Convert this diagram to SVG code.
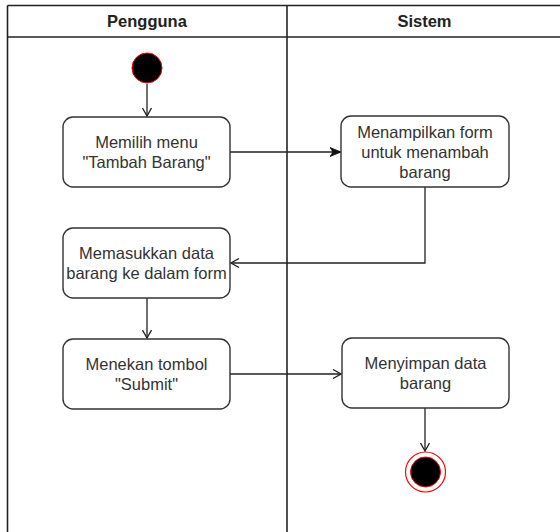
<svg xmlns="http://www.w3.org/2000/svg" width="560" height="532" viewBox="0 0 560 532">
<defs>
<style>
.lane{fill:none;stroke:#222;stroke-width:1.6}
.box{fill:#fff;stroke:#333;stroke-width:1.4}
.t{font-family:"Liberation Sans",Arial,sans-serif;font-size:16.5px;fill:#333;text-anchor:middle}
.h{font-family:"Liberation Sans",Arial,sans-serif;font-size:16.5px;font-weight:bold;fill:#222;text-anchor:middle}
.edge{fill:none;stroke:#222;stroke-width:1.3}
</style>
<marker id="open" viewBox="0 0 10 10" refX="9" refY="5" markerWidth="10" markerHeight="10" markerUnits="userSpaceOnUse" orient="auto">
<path d="M1,0.5 L9,5 L1,9.5" fill="none" stroke="#222" stroke-width="1.3"/>
</marker>
<marker id="block" viewBox="0 0 12 10" refX="11" refY="5" markerWidth="12" markerHeight="10" markerUnits="userSpaceOnUse" orient="auto">
<path d="M0,0.5 L11,5 L0,9.5 L3,5 Z" fill="#111" stroke="#111" stroke-width="0.8"/>
</marker>
</defs>
<g id="pool">
<line class="lane" x1="7.5" y1="5.5" x2="560" y2="5.5"/>
<line class="lane" x1="7.5" y1="37" x2="560" y2="37"/>
<line class="lane" x1="7.5" y1="5.5" x2="7.5" y2="532"/>
<line class="lane" x1="287" y1="5.5" x2="287" y2="532"/>
<text class="h" x="147" y="27">Pengguna</text>
<text class="h" x="424.5" y="27">Sistem</text>
</g>
<g id="connectors">
<line class="edge" x1="147" y1="84" x2="147" y2="116" marker-end="url(#open)"/>
<line class="edge" x1="230" y1="152" x2="341" y2="152" marker-end="url(#block)"/>
<polyline class="edge" points="425,187 425,263 231,263" marker-end="url(#open)"/>
<line class="edge" x1="147" y1="298" x2="147" y2="338" marker-end="url(#open)"/>
<line class="edge" x1="230" y1="374" x2="341" y2="374" marker-end="url(#open)"/>
<line class="edge" x1="425" y1="408" x2="425" y2="451" marker-end="url(#open)"/>
</g>
<g id="start">
<circle cx="147" cy="68" r="15" fill="#000" stroke="#ff0000" stroke-width="1"/>
</g>
<g id="n1">
<rect class="box" x="63" y="117" width="167" height="70" rx="10"/>
<text class="t" x="146.5" y="148">Memilih menu</text>
<text class="t" x="146.5" y="168">"Tambah Barang"</text>
</g>
<g id="n2">
<rect class="box" x="341" y="116" width="168" height="71" rx="10"/>
<text class="t" x="425" y="137.5">Menampilkan form</text>
<text class="t" x="425" y="157.5">untuk menambah</text>
<text class="t" x="425" y="177.5">barang</text>
</g>
<g id="n3">
<rect class="box" x="63" y="228" width="167" height="70" rx="10"/>
<text class="t" x="146.5" y="259">Memasukkan data</text>
<text class="t" x="146.5" y="279">barang ke dalam form</text>
</g>
<g id="n4">
<rect class="box" x="63" y="339" width="167" height="70" rx="10"/>
<text class="t" x="146.5" y="370">Menekan tombol</text>
<text class="t" x="146.5" y="390">"Submit"</text>
</g>
<g id="n5">
<rect class="box" x="342" y="338" width="167" height="70" rx="10"/>
<text class="t" x="425.5" y="368.5">Menyimpan data</text>
<text class="t" x="425.5" y="389">barang</text>
</g>
<g id="end">
<circle cx="425.5" cy="472" r="20" fill="#fff" stroke="#ff0000" stroke-width="1.2"/>
<circle cx="425.5" cy="472" r="15" fill="#000" stroke="#ff0000" stroke-width="1"/>
</g>
</svg>
